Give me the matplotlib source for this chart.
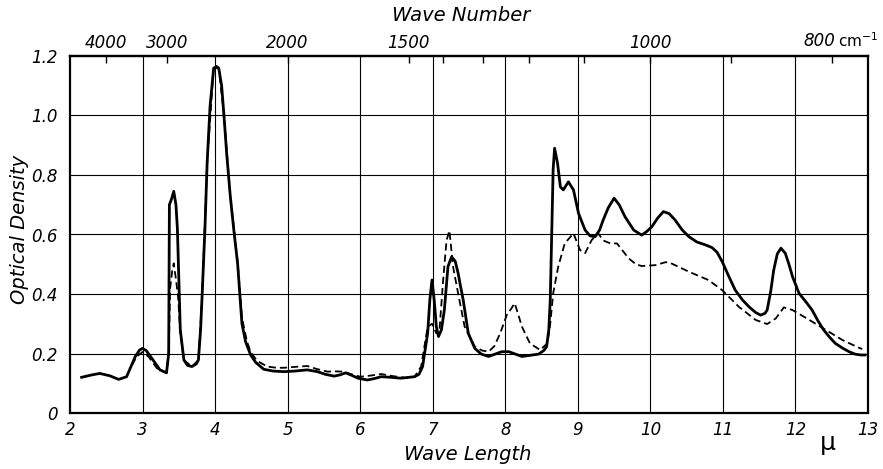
import matplotlib
matplotlib.use("Agg")
import matplotlib.pyplot as plt
import numpy as np

# wavelength (micron) / optical density
solid_x = [2.16, 2.30, 2.41, 2.55, 2.67, 2.78, 2.90, 2.96, 3.00, 3.05, 3.11, 3.24, 3.33,
           3.36, 3.37, 3.40, 3.43, 3.46, 3.48, 3.50, 3.52, 3.57, 3.62, 3.68, 3.74, 3.77,
           3.80, 3.82, 3.86, 3.89, 3.93, 3.98, 4.02, 4.05, 4.09, 4.12, 4.16, 4.21, 4.26,
           4.31, 4.34, 4.37, 4.42, 4.49, 4.56, 4.67, 4.80, 4.95, 5.10, 5.27, 5.41, 5.52,
           5.64, 5.72, 5.80, 5.88, 5.97, 6.10, 6.20, 6.29, 6.42, 6.56, 6.75, 6.81, 6.86,
           6.93, 6.96, 6.99, 7.02, 7.05, 7.08, 7.12, 7.16, 7.21, 7.26, 7.31, 7.35, 7.38,
           7.42, 7.49, 7.58, 7.67, 7.77, 7.86, 7.95, 8.05, 8.14, 8.23, 8.35, 8.46, 8.53,
           8.57, 8.60, 8.62, 8.64, 8.66, 8.68, 8.72, 8.76, 8.80, 8.87, 8.94, 9.01, 9.10,
           9.17, 9.24, 9.30, 9.35, 9.42, 9.50, 9.57, 9.65, 9.77, 9.88, 9.95, 10.02, 10.10,
           10.18, 10.26, 10.34, 10.44, 10.53, 10.64, 10.76, 10.85, 10.92, 10.99, 11.08,
           11.17, 11.27, 11.36, 11.45, 11.52, 11.58, 11.61, 11.66, 11.70, 11.75, 11.80,
           11.86, 11.91, 11.96, 12.05, 12.14, 12.23, 12.31, 12.39, 12.47, 12.55, 12.65,
           12.74, 12.82, 12.90, 12.96]
solid_y = [0.120, 0.128, 0.133, 0.125, 0.113, 0.122, 0.190, 0.212, 0.217, 0.210, 0.190, 0.145, 0.135,
           0.200, 0.700, 0.720, 0.745, 0.700, 0.620, 0.450, 0.280, 0.178, 0.160, 0.156, 0.165, 0.178,
           0.280, 0.390, 0.620, 0.840, 1.030, 1.159, 1.165, 1.159, 1.100, 1.007, 0.870, 0.727, 0.610,
           0.503, 0.400, 0.300, 0.240, 0.195, 0.170, 0.147, 0.141, 0.139, 0.141, 0.145, 0.139, 0.130,
           0.124, 0.128, 0.135, 0.127, 0.117, 0.111, 0.116, 0.122, 0.120, 0.117, 0.122, 0.130, 0.156,
           0.268, 0.380, 0.447, 0.380, 0.290, 0.257, 0.280, 0.346, 0.492, 0.525, 0.510, 0.470, 0.430,
           0.380, 0.268, 0.217, 0.198, 0.190, 0.198, 0.206, 0.206, 0.198, 0.190, 0.194, 0.198, 0.210,
           0.223, 0.280, 0.380, 0.600, 0.820, 0.890, 0.840, 0.760, 0.750, 0.777, 0.750, 0.671, 0.615,
           0.595, 0.593, 0.615, 0.649, 0.690, 0.722, 0.700, 0.660, 0.615, 0.598, 0.610, 0.626, 0.655,
           0.677, 0.670, 0.649, 0.615, 0.593, 0.575, 0.565, 0.556, 0.540, 0.509, 0.460,
           0.413, 0.380, 0.357, 0.338, 0.329, 0.335, 0.346, 0.410, 0.480, 0.535, 0.554,
           0.537, 0.500, 0.458, 0.402, 0.375, 0.346, 0.310, 0.279, 0.255, 0.234, 0.218,
           0.206, 0.198, 0.195, 0.195]

dashed_x = [2.85, 2.92, 3.00, 3.08, 3.20, 3.33, 3.36, 3.38, 3.41, 3.43, 3.46, 3.49, 3.52,
            3.57, 3.68, 3.77, 3.82, 3.89, 3.98, 4.05, 4.12, 4.21, 4.31, 4.37, 4.44, 4.49,
            4.58, 4.72, 4.85, 4.95, 5.10, 5.27, 5.40, 5.55, 5.65, 5.77, 5.88, 6.00, 6.15,
            6.29, 6.45, 6.66, 6.75, 6.84, 6.93, 6.99, 7.05, 7.09, 7.14, 7.19, 7.23, 7.28,
            7.35, 7.44, 7.58, 7.68, 7.77, 7.85, 7.93, 8.02, 8.08, 8.13, 8.18, 8.23, 8.34,
            8.48, 8.58, 8.62, 8.66, 8.73, 8.82, 8.94, 9.03, 9.10, 9.19, 9.28, 9.35, 9.45,
            9.54, 9.62, 9.70, 9.80, 9.88, 10.07, 10.21, 10.27, 10.40, 10.53, 10.80, 10.99,
            11.22, 11.45, 11.61, 11.73, 11.84, 11.96, 12.19, 12.42, 12.65, 12.86, 12.92]
dashed_y = [0.160, 0.190, 0.205, 0.190, 0.150, 0.135, 0.200, 0.420, 0.480, 0.503, 0.450, 0.390, 0.270,
            0.178, 0.156, 0.178, 0.390, 0.840, 1.159, 1.159, 1.007, 0.727, 0.510, 0.320, 0.240, 0.205,
            0.175, 0.156, 0.152, 0.152, 0.155, 0.158, 0.148, 0.139, 0.140, 0.139, 0.130, 0.122, 0.126,
            0.131, 0.124, 0.117, 0.122, 0.156, 0.290, 0.300, 0.268, 0.268, 0.436, 0.580, 0.613, 0.492,
            0.402, 0.290, 0.223, 0.210, 0.206, 0.225, 0.268, 0.329, 0.350, 0.369, 0.330, 0.290, 0.234,
            0.212, 0.234, 0.300, 0.402, 0.492, 0.570, 0.604, 0.548, 0.537, 0.581, 0.604, 0.580, 0.570,
            0.570, 0.545, 0.520, 0.500, 0.494, 0.497, 0.507, 0.505, 0.490, 0.475, 0.447, 0.413,
            0.357, 0.313, 0.299, 0.318, 0.355, 0.346, 0.313, 0.279, 0.245, 0.221, 0.215]

wl_ticks = list(range(2, 14))
od_ticks = [0, 0.2, 0.4, 0.6, 0.8, 1.0, 1.2]
od_labels = ['0', '0.2', '0.4', '0.6', '0.8', '1.0', '1.2']
wn_major = [4000, 3000, 2000, 1500, 1000, 800]
wn_labels = ['4000', '3000', '2000', '1500', '1000', '']   # 800 drawn by hand with its unit
wn_minor = [1400, 1300, 1200, 1100, 900]

plt.rcParams['font.family'] = ['DejaVu Sans']

fig = plt.figure(figsize=(8.83, 4.69), dpi=100)
ax = fig.add_axes([0.0793, 0.1194, 0.9037, 0.7612])

for x in wl_ticks[1:-1]:
    ax.axvline(x, color='black', lw=0.8, zorder=1)
for y in od_ticks[1:-1]:
    ax.axhline(y, color='black', lw=0.8, zorder=1)

ax.plot(dashed_x, dashed_y, color='black', lw=1.3, dashes=(4, 2.2), zorder=2)
ax.plot(solid_x, solid_y, color='black', lw=2.0, zorder=3, solid_joinstyle='round')

ax.set_xlim(2, 13)
ax.set_ylim(0, 1.2)
for s in ax.spines.values():
    s.set_linewidth(1.6)

ax.set_xticks(wl_ticks)
ax.set_xticklabels([str(t) for t in wl_ticks], fontstyle='italic', fontsize=12)
ax.set_yticks(od_ticks)
ax.set_yticklabels(od_labels, fontstyle='italic', fontsize=12)
ax.tick_params(axis='both', length=0, pad=6)
ax.tick_params(axis='y', pad=9)

sec = ax.secondary_xaxis('top', functions=(lambda x: 1e4 / np.asarray(x, dtype=float),
                                           lambda x: 1e4 / np.asarray(x, dtype=float)))
sec.set_xticks(wn_major)
sec.set_xticklabels(wn_labels, fontstyle='italic', fontsize=12)
sec.set_xticks(wn_minor, minor=True)
sec.tick_params(axis='x', which='both', direction='in', length=5, width=1, pad=3)
sec.spines['top'].set_linewidth(1.6)

# "800 cm-1" label at the right end of the top axis
ax.annotate('800', xy=(12.55, 1.2), xytext=(0, 4.5), textcoords='offset points',
            fontstyle='italic', fontsize=12, ha='right', va='bottom', annotation_clip=False)
ax.annotate('cm$^{-1}$', xy=(12.58, 1.2), xytext=(0, 4.5), textcoords='offset points',
            fontsize=11, ha='left', va='bottom', annotation_clip=False)
ax.text(12.45, -0.06, 'μ', fontsize=18, ha='center', va='top', clip_on=False)

fig.text(0.53, 0.03, 'Wave Length', fontstyle='italic', fontsize=14, ha='center', va='center')
fig.text(0.522, 0.968, 'Wave Number', fontstyle='italic', fontsize=14, ha='center', va='center')
fig.text(0.022, 0.51, 'Optical Density', fontstyle='italic', fontsize=14, rotation=90,
         ha='center', va='center')

fig.savefig('out.png', dpi=100)
